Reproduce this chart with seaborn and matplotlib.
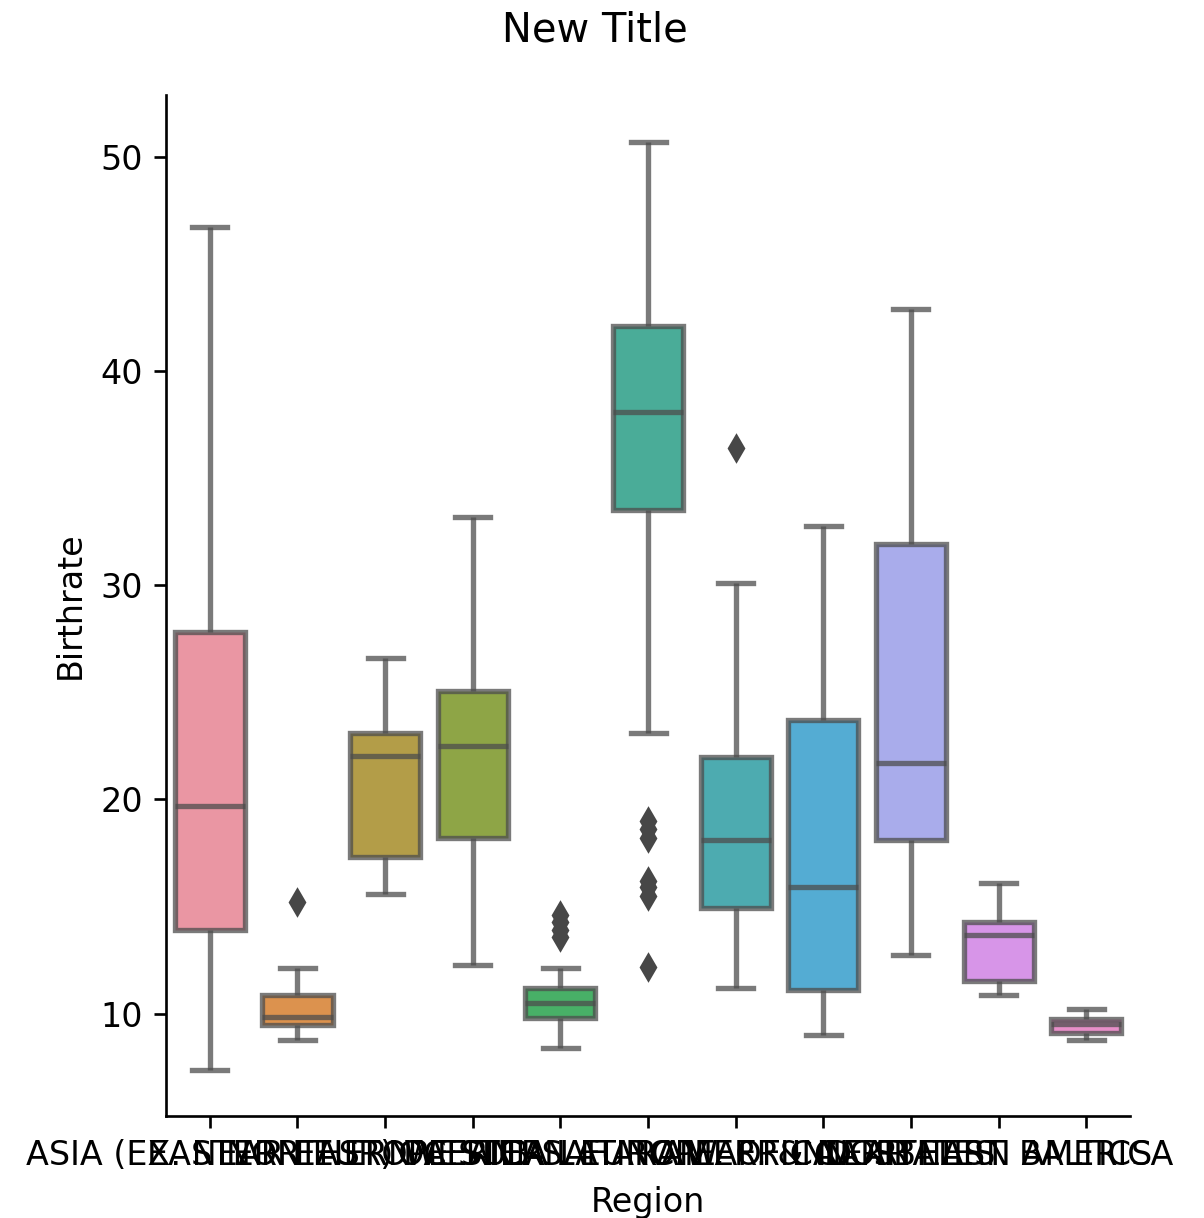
import matplotlib
matplotlib.use("Agg")
import matplotlib.pyplot as plt
import seaborn as sns
import pandas as pd

regions = [
    "ASIA (EX. NEAR EAST)", "EASTERN EUROPE", "NORTHERN AFRICA", "OCEANIA",
    "WESTERN EUROPE", "SUB-SAHARAN AFRICA", "LATIN AMER. & CARIB",
    "C.W. OF IND. STATES", "NEAR EAST", "NORTHERN AMERICA", "BALTICS",
]

asia = [7.4, 11.0, 13.9, 16.5, 19.7, 23.5, 27.8, 35.0, 46.7]
eastern_europe = [8.8, 9.2, 9.5, 9.7, 9.85, 10.3, 10.9, 12.15, 15.2]
northern_africa = [15.6, 16.4, 17.3, 19.5, 22.05, 22.6, 23.1, 24.8, 26.6]
oceania = [12.3, 15.5, 18.2, 20.5, 22.5, 23.8, 25.05, 28.5, 33.2]
western_europe = [8.4, 8.8, 9.2, 9.5, 9.7, 9.8, 10.0, 10.1, 10.3, 10.4, 10.5,
                  10.6, 10.8, 10.9, 11.1, 11.2, 12.15, 13.6, 13.9, 14.3, 14.6]
sub_saharan = [12.2, 15.5, 15.9, 16.2, 18.2, 18.6, 19.0, 23.1, 27.5, 31.0, 33.5,
               34.0, 34.5, 35.0, 35.6, 36.0, 36.5, 37.0, 37.4, 37.8, 38.1,
               38.5, 38.9, 39.3, 39.7, 40.1, 40.5, 40.9, 41.3, 41.7, 42.1,
               42.6, 43.2, 43.8, 44.4, 45.0, 45.7, 46.5, 47.5, 49.0, 50.7]
latin_america = [11.2, 12.5, 13.3, 14.0, 14.5, 14.95, 15.6, 16.2, 16.8, 17.5, 18.1,
                 18.7, 19.4, 20.2, 21.0, 22.0, 23.5, 25.0, 27.0, 30.1, 36.4]
cis = [9.0, 10.2, 11.1, 13.5, 15.9, 18.5, 23.7, 27.0, 32.75]
near_east = [12.75, 15.0, 17.0, 18.1, 19.5, 20.5, 21.7, 24.0, 28.0, 31.9, 35.0, 38.5, 42.9]
northern_america = [10.9, 11.55, 13.7, 14.3, 16.1]
baltics = [8.8, 9.1, 9.53, 9.77, 10.23]

values_by_region = [asia, eastern_europe, northern_africa, oceania, western_europe,
                    sub_saharan, latin_america, cis, near_east, northern_america, baltics]

rows = []
for reg, vals in zip(regions, values_by_region):
    for v in vals:
        rows.append({"Region": reg, "Birthrate": v})
df = pd.DataFrame(rows)

fig = plt.figure(figsize=(5.017, 5.075), dpi=240)
ax = fig.add_axes([0.1379, 0.0837, 0.9385 - 0.1379, 0.922 - 0.0837])

palette = sns.husl_palette(len(regions), l=.7)
sns.boxplot(data=df, x="Region", y="Birthrate", hue="Region", order=regions,
            hue_order=regions, palette=palette, saturation=0.75, legend=False,
            linecolor="0.3", linewidth=1.6, fliersize=5,
            flierprops=dict(marker="d", markerfacecolor="0.28",
                            markeredgecolor="0.28"),
            ax=ax)

for ln in ax.lines:
    m = ln.get_marker()
    if m in ("None", "", None, " "):
        ln.set_alpha(0.75)
for p in ax.patches:
    p.set_edgecolor((0.3, 0.3, 0.3, 0.75))

ax.set_ylim(5.23, 52.87)
ax.set_yticks([10, 20, 30, 40, 50])
sns.despine(ax=ax)
fig.suptitle("New Title", x=0.494, y=0.991, fontsize=12)

fig.savefig("out.png", dpi=240)
